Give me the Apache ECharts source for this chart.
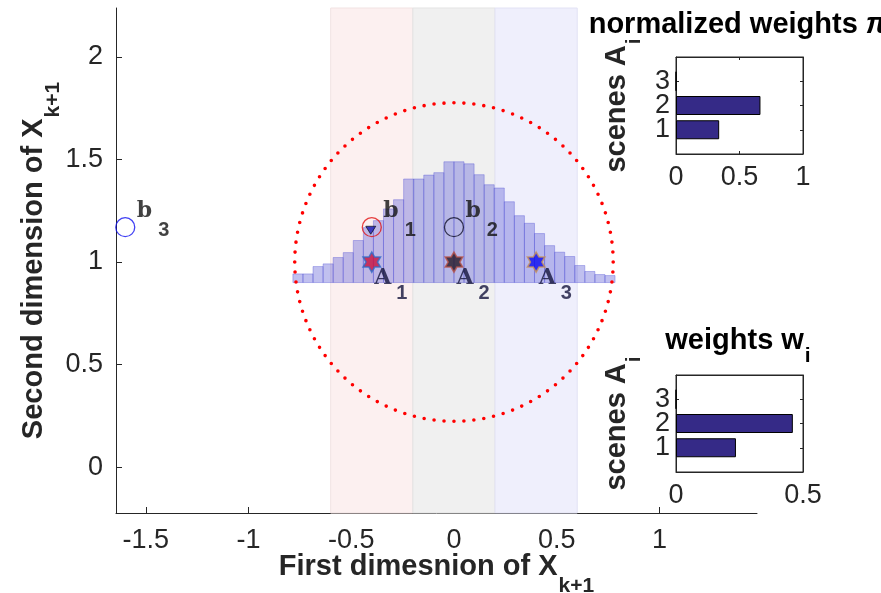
<!DOCTYPE html>
<html>
<head>
<meta charset="utf-8">
<script src="https://cdn.jsdelivr.net/npm/echarts@6.0.0/dist/echarts.min.js"></script>
<style>
  html, body { margin: 0; padding: 0; background: #fff; }
  #chart { width: 881px; height: 593px; }
</style>
</head>
<body>
<div id="chart"></div>
<script>
// values
const xTicks = [-1.5, -1, -0.5, 0, 0.5, 1]
const yTicks = [0, 0.5, 1, 1.5, 2]
const regionEdges = [-0.6, -0.2, 0.2, 0.6]

const histStart = -0.784
const histBinWidth = 0.049
const histBase = 0.9
const histTops = [
  0.942, 0.942, 0.978, 0.991, 1.022, 1.046, 1.105, 1.168,
  1.202, 1.259, 1.304, 1.405, 1.405, 1.424, 1.436, 1.489,
  1.489, 1.479, 1.426, 1.377, 1.361, 1.294, 1.226, 1.189,
  1.139, 1.080, 1.048, 1.027, 0.983, 0.954, 0.939, 0.934
]

const ringCenter = [0, 1]
const ringRadius = 0.775

const anchorX = [-0.4, 0, 0.4]
const anchorY = [1, 1, 1]
const bX = [-0.4, 0, -1.6]
const bY = [1.17, 1.17, 1.17]
const predX = [-0.405]
const predY = [1.155]

const scenes = ['1', '2', '3']
const normWeights = [0.34, 0.665, 0]
const weights = [0.236, 0.46, 0]

// styling
const axisColor = '#262626'
const sans = 'Liberation Sans'
const slab = 'DejaVu Serif'
const bandFill = ['#fcf0f0', '#f0f0f0', '#efeffc']
const bandStroke = ['#f1e2e2', '#e3e3e3', '#e2e2f4']
const starFill = ['#c8103c', '#241626', '#0a0af0']
const starEdge = ['#2f6cc8', '#b8524a', '#c8925a']
const ringEdge = ['#e01010', '#10102a', '#1010f0']
const barColor = '#352a87'
const hexagram = 'path://M0,-100L28.87,-50L86.6,-50L57.7,0L86.6,50L28.87,50L0,100L-28.87,50L-86.6,50L-57.7,0L-86.6,-50L-28.87,-50Z'

const tickLabel = { fontFamily: sans, fontSize: 27, color: axisColor }
const nameRich = (h) => ({
  m: { fontFamily: sans, fontWeight: 'bold', fontSize: 29, color: axisColor },
  s: { fontFamily: sans, fontWeight: 'bold', fontSize: 21, color: axisColor, padding: [h, 0, 0, 1] }
})
const catAxis = ['', ...scenes, '']
const hideBlank = (i, v) => v !== ''

const chart = echarts.init(document.getElementById('chart'), null, { renderer: 'canvas' })

function insetGrid(top) {
  return {
    left: 676, top: top, width: 127, height: 97,
    show: true, backgroundColor: '#fff', borderColor: axisColor, borderWidth: 1,
    outerBoundsMode: 'none'
  }
}

function insetX(gi, max, pos) {
  const bottom = pos === 'bottom'
  return {
    gridIndex: gi, type: 'value', min: 0, max: max, interval: 0.5, position: pos,
    axisLine: { show: true, onZero: false, lineStyle: { color: axisColor } },
    axisTick: { show: true, inside: true, length: 3, lineStyle: { color: axisColor } },
    axisLabel: bottom ? { show: true, margin: 10, hideOverlap: false, ...tickLabel } : { show: false },
    splitLine: { show: false }
  }
}

function insetY(gi, pos, name) {
  const left = pos === 'left'
  const ax = {
    gridIndex: gi, type: 'category', data: catAxis, boundaryGap: false, position: pos,
    axisLine: { show: true, onZero: false, lineStyle: { color: axisColor } },
    axisTick: { show: true, inside: true, length: 3, interval: hideBlank, lineStyle: { color: axisColor } },
    axisLabel: left
      ? { show: true, margin: 6, interval: 0, hideOverlap: false, lineHeight: 22, ...tickLabel }
      : { show: false },
    splitLine: { show: false }
  }
  if (left) {
    ax.name = name
    ax.nameLocation = 'middle'
    ax.nameRotate = 90
    ax.nameGap = 31
    ax.nameMoveOverlap = false
    ax.nameTextStyle = { rich: nameRich(36) }
  }
  return ax
}

const option = {
  backgroundColor: '#fff',
  animation: false,
  title: [
    {
      text: '{t|normalized weights }{p|π}{s|i}',
      left: 741, top: -2, textAlign: 'center', padding: 0,
      textStyle: {
        rich: {
          t: { fontFamily: sans, fontWeight: 'bold', fontSize: 29, color: '#000' },
          p: { fontFamily: sans, fontWeight: 'bold', fontStyle: 'italic', fontSize: 29, color: '#000' },
          s: { fontFamily: sans, fontWeight: 'bold', fontSize: 21, color: '#000', padding: [32, 0, 0, 1] }
        }
      }
    },
    {
      text: '{t|weights w}{s|i}',
      left: 738, top: 314, textAlign: 'center', padding: 0,
      textStyle: {
        rich: {
          t: { fontFamily: sans, fontWeight: 'bold', fontSize: 29, color: '#000' },
          s: { fontFamily: sans, fontWeight: 'bold', fontSize: 21, color: '#000', padding: [32, 0, 0, 1] }
        }
      }
    }
  ],
  grid: [
    { left: 116, right: 124, top: 8, bottom: 80, outerBoundsMode: 'none' },
    insetGrid(57),
    insetGrid(375)
  ],
  xAxis: [
    {
      gridIndex: 0, type: 'value', min: -1.645, max: 1.475,
      axisLine: { show: true, onZero: false, lineStyle: { color: axisColor, width: 1 } },
      axisTick: { show: true, inside: true, length: 6, customValues: xTicks, lineStyle: { color: axisColor } },
      axisLabel: { customValues: xTicks, margin: 14, ...tickLabel },
      splitLine: { show: false },
      name: '{m|First dimesnion of X}{s|k+1}',
      nameLocation: 'middle', nameGap: 23, nameMoveOverlap: false,
      nameTextStyle: { rich: nameRich(40) }
    },
    insetX(1, 1, 'bottom'),
    insetX(1, 1, 'top'),
    insetX(2, 0.5, 'bottom'),
    insetX(2, 0.5, 'top')
  ],
  yAxis: [
    {
      gridIndex: 0, type: 'value', min: -0.224, max: 2.239,
      axisLine: { show: true, onZero: false, lineStyle: { color: axisColor, width: 1 } },
      axisTick: { show: true, inside: true, length: 6, customValues: yTicks, lineStyle: { color: axisColor } },
      axisLabel: { customValues: yTicks, margin: 13, ...tickLabel },
      splitLine: { show: false },
      name: '{m|Second dimension of X}{s|k+1}',
      nameLocation: 'middle', nameRotate: 90, nameGap: 52, nameMoveOverlap: false,
      nameTextStyle: { rich: nameRich(40) }
    },
    insetY(1, 'left', '{m|scenes A}{s|i}'),
    insetY(1, 'right'),
    insetY(2, 'left', '{m|scenes A}{s|i}'),
    insetY(2, 'right')
  ],
  series: [
    {
      // coloured regions behind everything
      type: 'custom', xAxisIndex: 0, yAxisIndex: 0, z: 1, silent: true,
      encode: { x: [0, 1] },
      data: bandFill.map((c, i) => [regionEdges[i], regionEdges[i + 1], i]),
      renderItem(params, api) {
        const a = api.coord([api.value(0), 0])
        const b = api.coord([api.value(1), 0])
        const cs = params.coordSys
        const i = api.value(2)
        return {
          type: 'rect',
          shape: { x: a[0], y: cs.y, width: b[0] - a[0], height: cs.height },
          style: { fill: bandFill[i], stroke: bandStroke[i], lineWidth: 1 }
        }
      }
    },
    {
      // histogram
      type: 'custom', xAxisIndex: 0, yAxisIndex: 0, z: 2, silent: true,
      encode: { x: [0, 1], y: 2 },
      data: histTops.map((t, i) => [histStart + i * histBinWidth, histStart + (i + 1) * histBinWidth, t]),
      renderItem(params, api) {
        const p0 = api.coord([api.value(0), histBase])
        const p1 = api.coord([api.value(1), api.value(2)])
        return {
          type: 'rect',
          shape: { x: p0[0], y: p1[1], width: p1[0] - p0[0], height: p0[1] - p1[1] },
          style: { fill: 'rgba(90,90,212,0.38)', stroke: 'rgba(70,70,210,0.34)', lineWidth: 1 }
        }
      }
    },
    {
      // dotted ring
      type: 'custom', xAxisIndex: 0, yAxisIndex: 0, z: 3, silent: true,
      encode: { x: 0, y: 1 },
      data: [[ringCenter[0], ringCenter[1], ringRadius]],
      renderItem(params, api) {
        const c = api.coord([api.value(0), api.value(1)])
        const r = api.size([api.value(2), 0])[0]
        return {
          type: 'circle',
          shape: { cx: c[0], cy: c[1], r: r },
          style: { fill: 'none', stroke: '#ff0000', lineWidth: 3.6, lineDash: [0, 10], lineCap: 'round' }
        }
      }
    },
    {
      // b circles
      type: 'scatter', xAxisIndex: 0, yAxisIndex: 0, z: 4, symbol: 'circle', symbolSize: 19,
      data: bX.map((x, i) => ({
        value: [x, bY[i]],
        itemStyle: { color: 'rgba(0,0,0,0)', borderColor: ringEdge[i], borderWidth: 1.3 },
        label: { formatter: '{m|b}{s|' + scenes[i] + '}' }
      })),
      label: {
        show: true, position: 'inside', align: 'left', verticalAlign: 'middle', offset: [11.5, -16],
        rich: {
          m: { fontFamily: slab, fontWeight: 'bold', fontSize: 22, color: '#111' },
          s: { fontFamily: sans, fontWeight: 'bold', fontSize: 20, color: '#111', padding: [38, 0, 0, 6] }
        }
      }
    },
    {
      // predicted marker inside b1
      type: 'scatter', xAxisIndex: 0, yAxisIndex: 0, z: 5, symbol: 'triangle', symbolRotate: 180,
      symbolSize: [10, 8],
      itemStyle: { color: '#1c1cb4', borderColor: '#000', borderWidth: 0.8 },
      data: predX.map((x, i) => [x, predY[i]])
    },
    {
      // A stars
      type: 'scatter', xAxisIndex: 0, yAxisIndex: 0, z: 5, symbol: hexagram, symbolKeepAspect: true,
      symbolSize: 20,
      data: anchorX.map((x, i) => ({
        value: [x, anchorY[i]],
        itemStyle: { color: starFill[i], borderColor: starEdge[i], borderWidth: 1.6 },
        label: { formatter: '{m|A}{s|' + scenes[i] + '}' }
      })),
      label: {
        show: true, position: 'inside', align: 'left', verticalAlign: 'middle', offset: [2.5, 16],
        rich: {
          m: { fontFamily: slab, fontWeight: 'bold', fontSize: 22, color: '#14143c' },
          s: { fontFamily: sans, fontWeight: 'bold', fontSize: 20, color: '#14143c', padding: [30, 0, 0, 5] }
        }
      }
    },
    {
      type: 'bar', xAxisIndex: 1, yAxisIndex: 1, barWidth: 19,
      itemStyle: { color: barColor, borderColor: '#000', borderWidth: 1 },
      data: [null, ...normWeights, null]
    },
    {
      type: 'bar', xAxisIndex: 3, yAxisIndex: 3, barWidth: 19,
      itemStyle: { color: barColor, borderColor: '#000', borderWidth: 1 },
      data: [null, ...weights, null]
    }
  ]
}

chart.setOption(option)
</script>
</body>
</html>
